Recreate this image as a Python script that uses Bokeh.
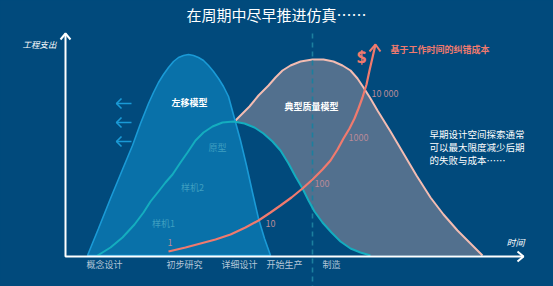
from bokeh.plotting import figure
from bokeh.models import Range1d
from bokeh.core.properties import value
from bokeh.embed import file_html
from bokeh.resources import INLINE

# ---- data (reference pixel space, y downwards) ----
blue_x = [87, 98, 110, 122, 132, 140, 148, 153, 158, 163, 168, 173, 178, 183, 188, 193, 198, 203, 208, 213, 218,
          223, 228, 234, 240, 246, 252, 258, 264, 270]
blue_y = [255, 228, 198, 169, 145, 123, 103, 92, 82, 74, 67, 61, 57, 55, 54, 55, 57, 60, 65, 71, 78,
          86, 96, 118, 140, 165, 192, 218, 238, 255]

teal_x = [97, 110, 122, 134, 143, 150, 158, 165, 172, 180, 187, 195, 203, 212, 222, 233, 244, 254, 263, 272, 280,
          288, 295, 302, 308, 314, 322, 331, 340, 350, 360, 370]
teal_y = [255, 247, 237, 224, 212, 201, 191, 182, 174, 162, 152, 140, 132, 126, 122, 121, 123, 127, 133, 141, 150,
          163, 176, 188, 200, 211, 222, 232, 241, 248, 252, 255]

pink_x = [235, 242, 249, 258, 268, 275, 282, 290, 300, 312, 323, 333, 342, 350, 357, 363, 370, 377, 390, 403, 416,
          430, 443, 457, 470, 482]
pink_y = [120, 113, 106, 95, 85, 77, 70, 65, 61, 59, 59, 61, 65, 70, 78, 87, 98, 110, 131, 153, 175, 197, 214, 230,
          243, 255]

red_x = [168, 185, 200, 215, 230, 245, 258, 270, 280, 291, 302, 312, 322, 330, 337, 343, 349, 354, 358, 362, 366, 369, 372, 375]
red_y = [251, 247, 243, 239, 234, 227, 220, 212, 205, 197, 188, 179, 169, 160, 149, 138, 128, 118, 108, 97, 84, 70, 57, 44]

phase_labels = ["概念设计", "初步研究", "详细设计", "开始生产", "制造"]
phase_x = [104, 184, 239, 284, 331]

cost_labels = ["1", "10", "100", "1000", "10 000"]
cost_x = [167, 265, 314, 348, 371]
cost_y = [242, 223, 183, 137, 93]

proto_labels = ["样机1", "样机2", "原型"]
proto_x = [163, 192, 217]
proto_y = [223, 187, 147]

note_lines = ["早期设计空间探索通常", "可以最大限度减少后期", "的失败与成本……"]
note_y = [133, 146, 159]

arrow_y = [103, 122, 141]

BG = "#014a7c"
FONT = value("Noto Sans CJK SC")

p = figure(width=553, height=286, x_range=Range1d(0, 553), y_range=Range1d(286, 0),
           output_backend="svg", toolbar_location=None, min_border=0)
p.axis.visible = False
p.grid.visible = False
p.outline_line_color = None
p.background_fill_color = BG
p.border_fill_color = BG

# gray "typical quality model" region: under pink, above teal
gx = [x for x in teal_x if x >= 233]
gy = [y for x, y in zip(teal_x, teal_y) if x >= 233]
poly_x = pink_x + [370] + gx[::-1]
poly_y = pink_y + [255] + gy[::-1]
p.patch(poly_x, poly_y, fill_color="#52708e", line_color=None)
p.line(pink_x, pink_y, line_color="#f3bcb2", line_width=2)

# dashed manufacturing start line
p.line([312, 312], [33, 286], line_color="#1c7f9e", line_width=1.6, line_dash="5 4")

# blue left-shift model
p.patch(blue_x, blue_y, fill_color="#0971a9", line_color="#1a9ad6", line_width=1.6)

# teal prototype curve
p.line(teal_x, teal_y, line_color="#14adbf", line_width=2)

# red cost curve with arrow head
p.line(red_x, red_y, line_color="#f07a6e", line_width=2.2)
p.line([369, 375, 380], [51, 44, 51], line_color="#f07a6e", line_width=2)

# left arrows
for ay in arrow_y:
    p.line([116, 131], [ay, ay], line_color="#1a9ad6", line_width=1.6)
    p.line([121, 116, 121], [ay - 5, ay, ay + 5], line_color="#1a9ad6", line_width=1.6)

# axes
p.line([65, 65, 523], [33, 256, 256], line_color="white", line_width=2)
p.line([60, 65, 70], [39, 33, 39], line_color="white", line_width=2)
p.line([517, 523, 517], [251, 256, 261], line_color="white", line_width=2)

# texts
p.text([276], [14], text=["在周期中尽早推进仿真……"], text_font=FONT, text_font_size="15px",
       text_color="white", text_align="center", text_baseline="middle")
p.text([56], [43], text=["工程支出"], text_font=FONT, text_font_size="8.5px", font_style="italic",
       text_color="white", text_align="right", text_baseline="middle")
p.text([524], [242], text=["时间"], text_font=FONT, text_font_size="9px", font_style="italic",
       text_color="white", text_align="right", text_baseline="middle")
p.text(phase_x, [264] * len(phase_x), text=phase_labels, text_font=FONT, text_font_size="9px",
       text_color="#b4c6d8", text_align="center", text_baseline="middle")
p.text(cost_x, cost_y, text=cost_labels, text_font=FONT, text_font_size="9px",
       text_color="#b88a98", text_align="left", text_baseline="middle")
p.text(proto_x, proto_y, text=proto_labels, text_font=FONT, text_font_size="9px",
       text_color="#3f9fc0", text_align="center", text_baseline="middle")
p.text([189], [102], text=["左移模型"], text_font=FONT, text_font_size="9px", font_style="bold",
       text_color="white", text_align="center", text_baseline="middle")
p.text([311], [106], text=["典型质量模型"], text_font=FONT, text_font_size="9px", font_style="bold",
       text_color="white", text_align="center", text_baseline="middle")
p.text([390], [49], text=["基于工作时间的纠错成本"], text_font=FONT, text_font_size="9px", font_style="bold",
       text_color="#f07a6e", text_align="left", text_baseline="middle")
p.text([361], [57], text=["$"], text_font=value("Open Sans"), text_font_size="17px", font_style="bold",
       text_color="#f07a6e", text_align="center", text_baseline="middle")
p.text([429] * 3, note_y, text=note_lines, text_font=FONT, text_font_size="9.5px",
       text_color="white", text_align="left", text_baseline="middle")

html = file_html(p, INLINE)
html = html.replace("<head>", "<head><style>html,body{margin:0;padding:0;overflow:hidden;background:%s;}</style>" % BG, 1)
open("out.html", "w").write(html)
